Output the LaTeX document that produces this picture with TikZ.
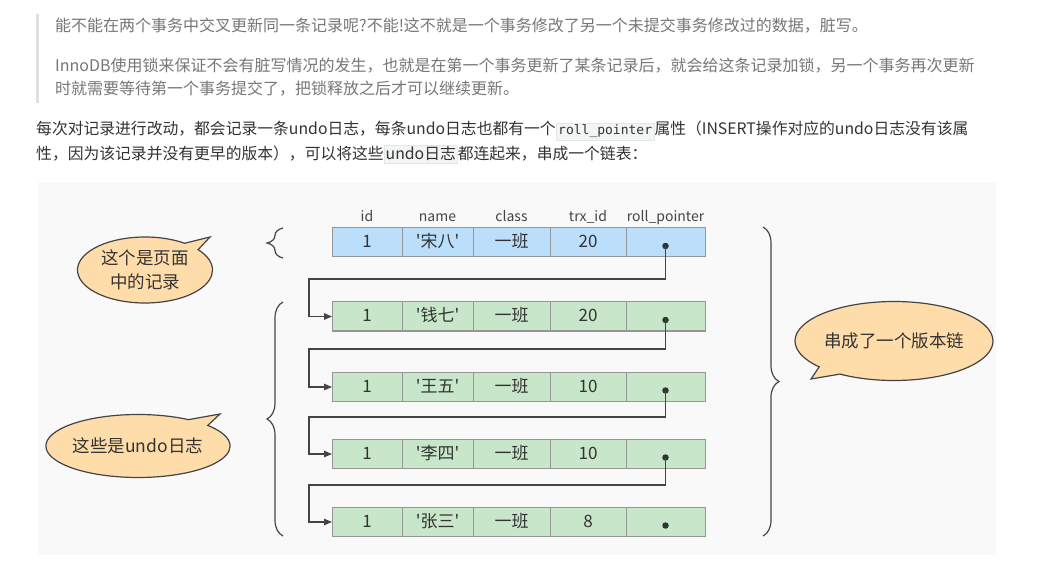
\documentclass[tikz,border=0pt]{standalone}
\usepackage{fontspec}
\setmainfont{Noto Sans CJK SC}
\setmonofont{DejaVu Sans Mono}
\usepackage{xcolor}
\usepackage{tikz}
\usetikzlibrary{positioning,arrows.meta,shapes.callouts,decorations.pathreplacing}
\definecolor{quotebar}{RGB}{223,226,229}
\definecolor{quotetext}{RGB}{119,119,119}
\definecolor{bodytext}{RGB}{51,51,51}
\definecolor{codebg}{RGB}{243,244,244}
\definecolor{codeline}{RGB}{228,231,234}
\definecolor{figbg}{RGB}{249,249,249}
\definecolor{pagerow}{RGB}{187,222,251}
\definecolor{undorow}{RGB}{200,230,201}
\definecolor{cellline}{RGB}{150,150,150}
\definecolor{bubblebg}{RGB}{255,221,170}
\definecolor{inkgray}{RGB}{68,68,68}
\newcommand{\codechip}[1]{{\setlength{\fboxsep}{2pt}\fcolorbox{codeline}{codebg}{\ttfamily\fontsize{13}{13}\selectfont #1}}}
\newcommand{\wordchip}[1]{{\setlength{\fboxsep}{1.5pt}\fcolorbox{codeline}{codebg}{#1}}}
\tikzset{
  cell/.style={rectangle, draw=cellline, line width=1pt, outer sep=0pt, inner sep=0pt,
    minimum height=29pt, text height=13pt, text depth=3pt,
    font=\fontsize{17}{17}\selectfont, text=bodytext},
  colhead/.style={inner sep=0pt, text height=10pt, text depth=3pt,
    font=\fontsize{14}{14}\selectfont, text=inkgray},
  bubble/.style={ellipse callout, draw=inkgray, line width=1.2pt, fill=bubblebg,
    inner sep=0pt, align=center, callout pointer arc=16,
    font=\fontsize{17.5}{24}\selectfont, text=bodytext},
  arr/.style={-{Triangle[length=8pt,width=6.5pt]}, draw=inkgray, line width=1.3pt},
  brc/.style={decorate, decoration={brace, amplitude=16pt}, draw=inkgray, line width=1.2pt},
  ptr/.style={circle, fill=bodytext, inner sep=0pt, minimum size=6.5pt},
  quoteline/.style={anchor=base west, inner sep=0pt, text=quotetext, font=\fontsize{16}{16}\selectfont},
  bodyline/.style={anchor=base west, inner sep=0pt, text=bodytext, font=\fontsize{15.8}{16}\selectfont},
}

\begin{document}
\begin{tikzpicture}[x=1pt, y=-1pt]
  \useasboundingbox[fill=white] (0,0) rectangle (1053,572);

  \fill[quotebar] (36,14) rectangle (39,103);
  \node[quoteline] (q1) at (55,32) {能不能在两个事务中交叉更新同一条记录呢?不能!这不就是一个事务修改了另一个未提交事务修改过的数据，脏写。};
  \node[quoteline] (q2) at (55,72) {InnoDB使用锁来保证不会有脏写情况的发生，也就是在第一个事务更新了某条记录后，就会给这条记录加锁，另一个事务再次更新};
  \node[quoteline] (q3) at (55,95) {时就需要等待第一个事务提交了，把锁释放之后才可以继续更新。};
  \node[bodyline] (p1) at (36,135) {每次对记录进行改动，都会记录一条undo日志，每条undo日志也都有一个\codechip{roll\_pointer}属性（INSERT操作对应的undo日志没有该属};
  \node[bodyline] (p2) at (36,160) {性，因为该记录并没有更早的版本），可以将这些\wordchip{undo日志}都连起来，串成一个链表：};

  \fill[figbg] (38,182) rectangle (996,555);

  \foreach \r/\who/\trx/\ypos/\rowfill in {1/宋八/20/242.5/pagerow, 2/钱七/20/316.5/undorow,
      3/王五/10/387/undorow, 4/李四/10/454/undorow, 5/张三/8/522/undorow}{
    \node[cell, fill=\rowfill, minimum width=70pt] (rec\r-id) at (367,\ypos) {1};
    \node[cell, fill=\rowfill, minimum width=71pt, right=0pt of rec\r-id] (rec\r-name) {\textquotesingle\who\textquotesingle};
    \node[cell, fill=\rowfill, minimum width=77pt, right=0pt of rec\r-name] (rec\r-class) {一班};
    \node[cell, fill=\rowfill, minimum width=76pt, right=0pt of rec\r-class] (rec\r-trx) {\trx};
    \node[cell, fill=\rowfill, minimum width=79pt, right=0pt of rec\r-trx] (rec\r-ptr) {};
    \node[ptr] (dot\r) at ([yshift=-3.5pt]rec\r-ptr.center) {};
  }

  \node[colhead, above=3pt of rec1-id] (h-id) {id};
  \node[colhead, above=3pt of rec1-name] (h-name) {name};
  \node[colhead, above=3pt of rec1-class] (h-class) {class};
  \node[colhead, above=3pt of rec1-trx] (h-trx) {trx\_id};
  \node[colhead, above=3pt of rec1-ptr] (h-ptr) {roll\_pointer};

  \foreach \a/\b/\ybend in {1/2/279, 2/3/349, 3/4/417, 4/5/485}{
    \coordinate (bend\a) at (309,\ybend);
    \draw[arr] (dot\a.center) |- (bend\a) |- (rec\b-id.west);
  }

  \draw[brc] (283,258) -- (283,228);
  \draw[brc] (283,536) -- (283,302);
  \draw[brc] (763,227) -- (763,536);

  \coordinate (tip-page) at (210,237);
  \coordinate (tip-undo) at (220,414);
  \coordinate (tip-chain) at (811,379);
  \node[bubble, minimum width=135pt, minimum height=66pt, callout absolute pointer={(tip-page)}] (bub-page) at (145,270) {这个是页面\\中的记录};
  \node[bubble, minimum width=164pt, minimum height=63pt, callout absolute pointer={(tip-undo)}] (bub-undo) at (138,446) {这些是undo日志};
  \node[bubble, minimum width=168pt, minimum height=79pt, callout absolute pointer={(tip-chain)}] (bub-chain) at (894,341) {串成了一个版本链};
\end{tikzpicture}
\end{document}
